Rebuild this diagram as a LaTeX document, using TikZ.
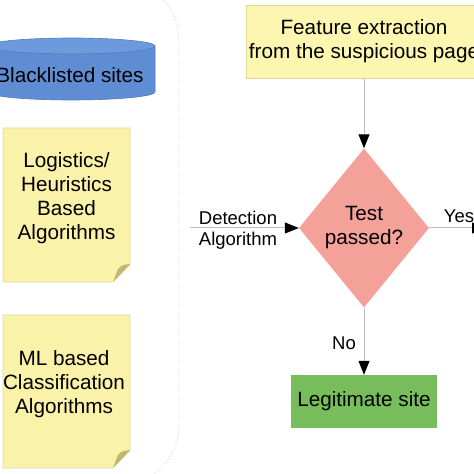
\documentclass[tikz,border=0pt]{standalone}
\usepackage{fontspec}
\setmainfont{Liberation Sans}
\usetikzlibrary{shapes.geometric,arrows.meta}
\definecolor{cylbody}{HTML}{5F8DD3}
\definecolor{cyltop}{HTML}{6C9ADD}
\definecolor{cylline}{HTML}{4F7CC0}
\definecolor{notefill}{HTML}{FBF2A9}
\definecolor{noteline}{HTML}{E2D894}
\definecolor{foldfill}{HTML}{BFB676}
\definecolor{boxfill}{HTML}{FDF6B0}
\definecolor{diafill}{HTML}{F3A199}
\definecolor{greenfill}{HTML}{77BD5C}
\definecolor{conn}{HTML}{BDBDBD}
\definecolor{framecol}{HTML}{CFCFCF}
\tikzset{
  x=1pt, y=1pt,
  maintext/.style={font=\fontsize{20.7}{24}\selectfont, text=black, align=center, inner sep=0pt},
  lbltext/.style={font=\fontsize{18.5}{21}\selectfont, text=black, inner sep=0pt},
  notebg/.style={fill=notefill, draw=noteline, line width=0.6pt},
  foldstyle/.style={fill=foldfill},
  conn/.style={draw=conn, line width=1pt, -{Triangle[length=14pt,width=11pt,fill=black,color=black]}},
  framestyle/.style={draw=framecol, line width=0.8pt, dotted},
}
\begin{document}
\begin{tikzpicture}
\useasboundingbox (0,0) rectangle (474,474);
\clip (0,0) rectangle (474,474);
% dotted frame
\draw[framestyle] (-10,494) -- (119,494) arc[start angle=90,end angle=0,radius=60]
  -- (179,49) arc[start angle=0,end angle=-90,radius=60] -- (-10,-11);
% cylinder
\filldraw[fill=cylbody, draw=cylline, line width=0.6pt] (-12,428) -- (-12,382)
  arc[start angle=180,end angle=360,x radius=83.5,y radius=8] -- (155,428) -- cycle;
\filldraw[fill=cyltop, draw=cylline, line width=0.6pt] (71.5,428) ellipse[x radius=83.5,y radius=8];
\node[maintext] (bl) at (70,399) {Blacklisted sites};
% note 1
\path[notebg] (3,346) -- (130,346) -- (130,209) -- (113,192) -- (3,192) -- cycle;
\fill[foldstyle] (113,192) -- (130,210) .. controls (122,209) .. (118,205) -- cycle;
\node[maintext] (n1) at (66.5,275.5) {Logistics/\\Heuristics\\Based\\Algorithms};
% note 2
\path[notebg] (3,159) -- (130,159) -- (130,23) -- (113,6) -- (3,6) -- cycle;
\fill[foldstyle] (113,6) -- (130,24) .. controls (122,23) .. (118,19) -- cycle;
\node[maintext] (n2) at (64,90) {ML based\\Classification\\Algorithms};
% feature extraction
\node[maintext, fill=boxfill, draw=noteline, line width=0.6pt, minimum width=236pt, minimum height=73pt] (fe) at (364,432.5) {Feature extraction\\from the suspicious page};
% diamond
\node[maintext, diamond, fill=diafill, minimum width=130pt, minimum height=159pt] (tp) at (364,246) {Test\\passed?};
% legitimate
\node[maintext, fill=greenfill, minimum width=146pt, minimum height=53pt] (lg) at (364,72.5) {Legitimate site};
% connectors
\coordinate (da) at (190,246);
\coordinate (ye) at (486,246);
\draw[conn] (fe.south) -- (tp.north);
\draw[conn] (da) -- (tp.west);
\draw[conn] (tp.east) -- (ye);
\draw[conn] (tp.south) -- (lg.north);
% labels
\node[lbltext, anchor=base] (ld) at (238,249) {Detection};
\node[lbltext, anchor=base] (la) at (238,228) {Algorithm};
\node[lbltext, anchor=base] (lyes) at (459,251) {Yes};
\node[lbltext, anchor=base] (lno) at (344,124) {No};
\end{tikzpicture}
\end{document}
